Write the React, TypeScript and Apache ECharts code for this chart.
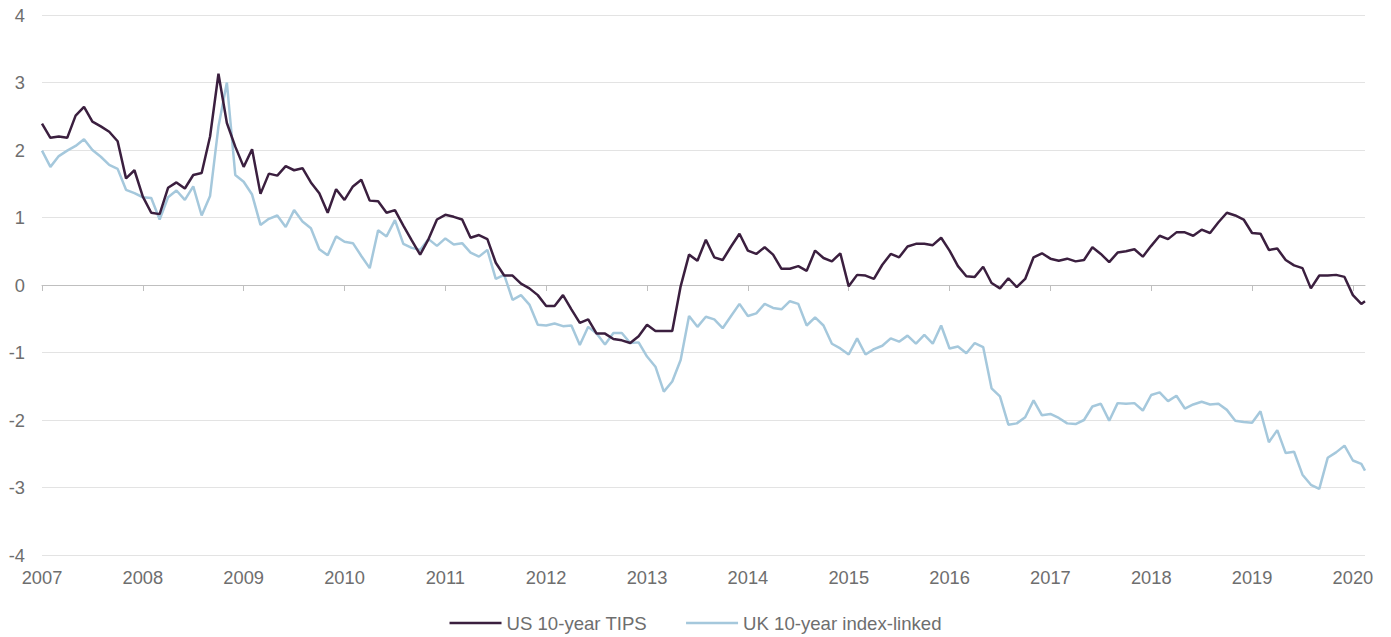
import React, { useEffect, useRef } from "react";
import * as echarts from "echarts";

// Monthly observations starting January 2007; the last value is an intra-month reading (early Feb 2020)
const START_YEAR = 2007;
const LAST_EXTRA_X = 2020.12;

const usTips: number[] = [
  2.39, 2.18, 2.2, 2.18, 2.51, 2.64, 2.42, 2.35, 2.27, 2.13, 1.58, 1.7,
  1.31, 1.07, 1.05, 1.44, 1.52, 1.43, 1.63, 1.66, 2.2, 3.13, 2.4, 2.05,
  1.75, 2.01, 1.35, 1.65, 1.62, 1.76, 1.7, 1.73, 1.52, 1.36, 1.07, 1.42,
  1.26, 1.46, 1.56, 1.25, 1.24, 1.07, 1.11, 0.88, 0.66, 0.45, 0.68, 0.97,
  1.04, 1.01, 0.97, 0.7, 0.74, 0.68, 0.33, 0.14, 0.14, 0.02, -0.05, -0.15,
  -0.31, -0.31, -0.15, -0.36, -0.56, -0.51, -0.72, -0.72, -0.8, -0.82, -0.86, -0.76,
  -0.59, -0.68, -0.68, -0.68, -0.02, 0.45, 0.36, 0.67, 0.41, 0.37, 0.57, 0.76,
  0.51, 0.46, 0.56, 0.45, 0.24, 0.24, 0.28, 0.21, 0.51, 0.4, 0.35, 0.47,
  -0.02, 0.15, 0.14, 0.09, 0.3, 0.46, 0.41, 0.57, 0.61, 0.61, 0.59, 0.7,
  0.51, 0.28, 0.13, 0.12, 0.27, 0.03, -0.05, 0.1, -0.03, 0.09, 0.41, 0.47,
  0.39, 0.36, 0.39, 0.35, 0.37, 0.56, 0.46, 0.34, 0.48, 0.5, 0.53, 0.42,
  0.58, 0.73, 0.68, 0.78, 0.78, 0.73, 0.82, 0.77, 0.93, 1.07, 1.03, 0.97,
  0.77, 0.76, 0.52, 0.54, 0.37, 0.29, 0.25, -0.05, 0.14, 0.14, 0.15, 0.12,
  -0.15, -0.28, -0.24,
];

const ukLinked: number[] = [
  1.99, 1.75, 1.91, 1.99, 2.06, 2.16, 2.0, 1.9, 1.78, 1.72, 1.41, 1.36,
  1.3, 1.29, 0.97, 1.3, 1.4, 1.26, 1.46, 1.03, 1.32, 2.35, 3.0, 1.63,
  1.53, 1.34, 0.89, 0.98, 1.03, 0.86, 1.11, 0.94, 0.84, 0.53, 0.44, 0.72,
  0.64, 0.62, 0.43, 0.25, 0.81, 0.72, 0.96, 0.61, 0.55, 0.52, 0.68, 0.58,
  0.69, 0.6, 0.62, 0.48, 0.42, 0.52, 0.09, 0.15, -0.22, -0.15, -0.29, -0.59,
  -0.6, -0.57, -0.61, -0.6, -0.89, -0.62, -0.72, -0.88, -0.71, -0.71, -0.86, -0.85,
  -1.06, -1.21, -1.58, -1.43, -1.11, -0.46, -0.62, -0.47, -0.51, -0.64, -0.46, -0.28,
  -0.46, -0.42, -0.28, -0.34, -0.36, -0.24, -0.28, -0.6, -0.48, -0.6, -0.87, -0.94,
  -1.03, -0.79, -1.03, -0.95, -0.9, -0.79, -0.84, -0.75, -0.87, -0.74, -0.87, -0.6,
  -0.94, -0.91, -1.01, -0.86, -0.92, -1.53, -1.65, -2.07, -2.05, -1.96, -1.71, -1.93,
  -1.91, -1.97, -2.05, -2.06, -2.0, -1.8, -1.76, -2.01, -1.75, -1.76, -1.75, -1.86,
  -1.63, -1.59, -1.72, -1.64, -1.83, -1.77, -1.73, -1.77, -1.76, -1.85, -2.01, -2.03,
  -2.04, -1.87, -2.33, -2.15, -2.49, -2.47, -2.81, -2.96, -3.02, -2.56, -2.48, -2.38,
  -2.6, -2.65, -2.75,
];

const yearTicks: number[] = [
  2007, 2008, 2009, 2010, 2011, 2012, 2013, 2014, 2015, 2016, 2017, 2018, 2019, 2020,
];

const seriesNames = ["US 10-year TIPS", "UK 10-year index-linked"];
const seriesColors = ["#3b1f3f", "#a5c8dc"];

function timeFor(i: number, n: number): number {
  if (i === n - 1) return LAST_EXTRA_X;
  return START_YEAR + i / 12;
}

function toPairs(values: number[]): [number, number][] {
  return values.map((v, i) => [timeFor(i, values.length), v]);
}

export default function App() {
  const ref = useRef<HTMLDivElement>(null);

  useEffect(() => {
    document.body.style.margin = "0";
    if (!ref.current) return;
    const chart = echarts.init(ref.current, undefined, { renderer: "svg" });
    const textColor = "#6e6e6e";
    const font = "'Liberation Sans', Arial, sans-serif";
    const xMin = 2007;
    const xMax = LAST_EXTRA_X;

    chart.setOption({
      animation: false,
      backgroundColor: "#ffffff",
      textStyle: { fontFamily: font },
      grid: {
        left: 42,
        right: 26,
        top: 15,
        bottom: 82,
        containLabel: false,
        outerBoundsMode: "none",
      },
      legend: {
        left: "center",
        top: 612,
        padding: 0,
        icon: "rect",
        itemWidth: 52,
        itemHeight: 2.5,
        itemGap: 39,
        textStyle: { fontSize: 18.6, lineHeight: 22, color: textColor, fontFamily: font },
        data: seriesNames,
      },
      xAxis: [
        {
          type: "value",
          min: xMin,
          max: xMax,
          interval: 1,
          position: "bottom",
          axisLine: { show: false, onZero: false },
          axisTick: { show: false },
          splitLine: { show: false },
          axisLabel: {
            fontSize: 18.3,
            color: textColor,
            fontFamily: font,
            margin: 13,
            customValues: yearTicks,
            formatter: (v: number) => String(Math.round(v)),
          },
        },
        {
          type: "value",
          min: xMin,
          max: xMax,
          interval: 1,
          position: "top",
          axisLine: { show: true, onZero: true, lineStyle: { color: "#bfbfbf", width: 1 } },
          axisTick: {
            show: true,
            inside: true,
            length: 6,
            customValues: yearTicks,
            lineStyle: { color: "#bfbfbf", width: 1 },
          },
          splitLine: { show: false },
          axisLabel: { show: false },
        },
      ],
      yAxis: {
        type: "value",
        min: -4,
        max: 4,
        interval: 1,
        axisLine: { show: false },
        axisTick: { show: false },
        axisLabel: { fontSize: 18.3, color: textColor, fontFamily: font, margin: 17 },
        splitLine: { show: true, lineStyle: { color: "#e3e3e3", width: 1 } },
      },
      series: [
        {
          name: seriesNames[0],
          type: "line",
          xAxisIndex: 0,
          data: toPairs(usTips),
          symbol: "none",
          lineStyle: { color: seriesColors[0], width: 2.5 },
          itemStyle: { color: seriesColors[0] },
          z: 3,
        },
        {
          name: seriesNames[1],
          type: "line",
          xAxisIndex: 0,
          data: toPairs(ukLinked),
          symbol: "none",
          lineStyle: { color: seriesColors[1], width: 2.5 },
          itemStyle: { color: seriesColors[1] },
          z: 2,
        },
      ],
    });

    return () => {
      chart.dispose();
    };
  }, []);

  return (
    <div
      ref={ref}
      style={{ position: "absolute", left: 0, top: 0, width: 1391, height: 637 }}
    />
  );
}
